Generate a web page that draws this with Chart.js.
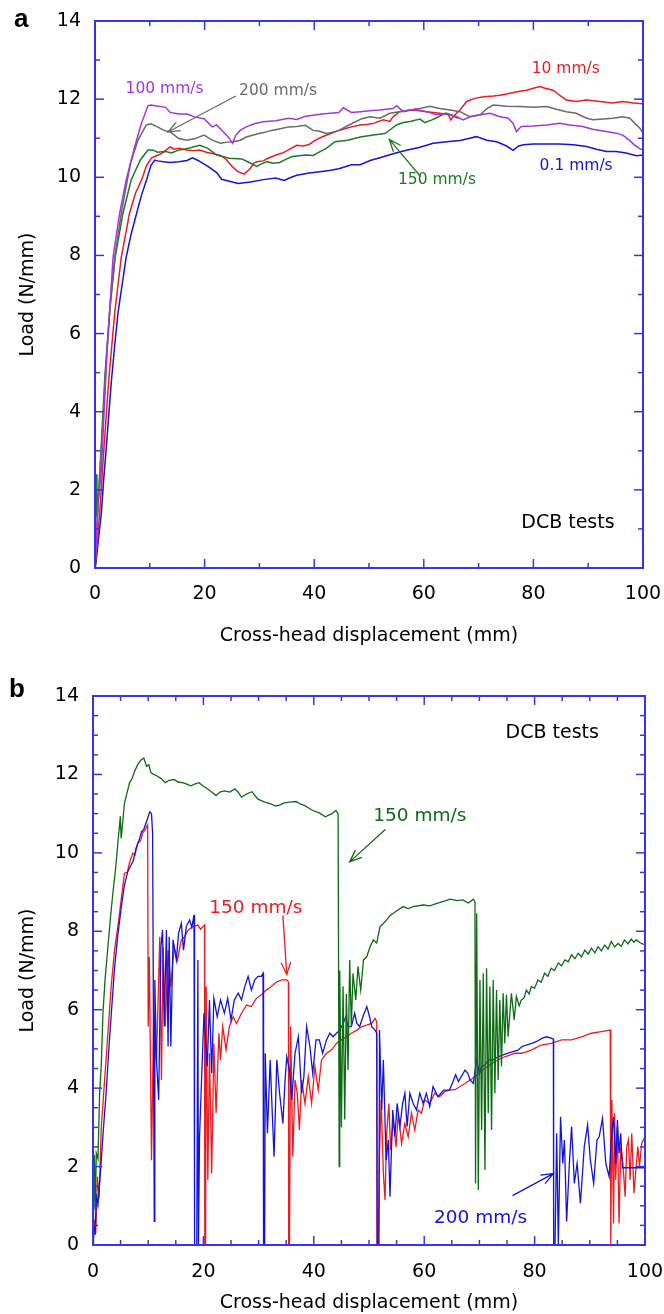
<!DOCTYPE html>
<html>
<head>
<meta charset="utf-8">
<script src="https://cdn.jsdelivr.net/npm/chart.js@4.4.1/dist/chart.umd.min.js"></script>
<style>
  html, body { margin: 0; padding: 0; background: #fff; }
  #wrapA { position: absolute; left: 0; top: 0; width: 664px; height: 660px; }
  #wrapB { position: absolute; left: 0; top: 660px; width: 664px; height: 654px; }
</style>
</head>
<body>
<div id="wrapA"><canvas id="chartA"></canvas></div>
<div id="wrapB"><canvas id="chartB"></canvas></div>
<script>
// ---- panel a: load vs displacement, [displacement mm, load N/mm] ----
var a100 = [[0,0],[0.3,0.8],[0.6,1.7],[1.16,2.5],[1.65,3.97],[2.25,5.66],[3.3,7.96],[4.5,9.08],[5.7,9.93],[7.24,10.78],[8.5,11.39],[9.67,11.83],[10.2,11.85],[11.5,11.82],[12.9,11.79],[13.7,11.66],[15.3,11.62],[16.8,11.62],[18.3,11.54],[19.9,11.5],[21.4,11.29],[22.2,11.34],[23.7,11.12],[24.5,11.0],[25.1,10.87],[25.7,11.08],[26.5,11.2],[27.6,11.29],[29.1,11.37],[30.7,11.42],[33.0,11.45],[35.3,11.51],[36.8,11.48],[38.4,11.56],[41.4,11.62],[44.5,11.66],[45.3,11.78],[46.8,11.66],[48.4,11.68],[50.0,11.7],[52.0,11.72],[54.4,11.76],[55.0,11.83],[56.3,11.68],[58.4,11.74],[60.5,11.68],[62.3,11.6],[64.2,11.64],[66.0,11.55],[67.2,11.47],[68.4,11.55],[70.3,11.6],[72.1,11.64],[73.9,11.55],[75.4,11.51],[76.3,11.38],[76.9,11.17],[77.8,11.3],[79.9,11.31],[82.4,11.34],[84.8,11.38],[86.6,11.34],[89.0,11.3],[90.8,11.23],[93.3,11.17],[95.1,11.13],[96.3,11.08],[97.5,10.95],[98.4,10.83],[99.3,10.74],[100,10.7]];
var a200 = [[0,0],[0.3,1.0],[0.8,2.2],[1.4,3.6],[2.0,5.2],[2.8,6.8],[3.6,7.96],[4.8,9.08],[5.6,9.7],[6.5,10.37],[7.85,10.95],[9.36,11.34],[10.2,11.37],[11.4,11.29],[12.6,11.2],[13.7,11.16],[15.3,10.99],[16.8,10.95],[18.3,10.99],[19.9,11.08],[21.4,10.95],[22.9,10.87],[24.2,10.9],[25.3,10.91],[26.5,10.95],[27.6,11.03],[29.9,11.12],[31.0,11.15],[32.2,11.2],[33.8,11.24],[35.3,11.29],[36.8,11.3],[38.4,11.33],[39.8,11.2],[41.0,11.18],[42.2,11.12],[43.4,11.15],[44.5,11.2],[46.8,11.37],[48.7,11.5],[50.2,11.55],[52.0,11.51],[53.8,11.64],[55.6,11.68],[57.5,11.72],[59.3,11.76],[61.1,11.82],[62.9,11.76],[64.8,11.72],[66.6,11.68],[68.4,11.55],[70.3,11.6],[71.5,11.76],[72.7,11.85],[75.1,11.82],[77.6,11.81],[80.0,11.79],[82.4,11.81],[84.2,11.74],[86.0,11.68],[87.8,11.64],[89.7,11.51],[90.9,11.47],[92.7,11.49],[94.5,11.51],[96.3,11.55],[97.6,11.51],[98.5,11.38],[99.4,11.26],[100,11.13]];
var a10 = [[0,0],[0.4,0.6],[0.85,1.4],[1.65,3.1],[2.5,4.8],[3.6,6.53],[4.8,7.96],[6.3,9.08],[7.4,9.6],[8.5,9.93],[9.4,10.3],[10.3,10.49],[11.2,10.55],[12.2,10.61],[13.0,10.7],[13.7,10.78],[14.5,10.72],[15.3,10.74],[16.8,10.7],[18.0,10.68],[19.1,10.7],[20.3,10.64],[21.4,10.61],[22.9,10.56],[24.0,10.45],[24.5,10.36],[25.3,10.24],[26.0,10.15],[27.2,10.08],[28.0,10.18],[28.4,10.24],[29.0,10.36],[29.5,10.4],[30.7,10.42],[31.8,10.5],[33.0,10.57],[34.2,10.62],[35.3,10.7],[36.8,10.82],[38.0,10.8],[39.1,10.84],[40.2,10.95],[41.4,11.03],[43.0,11.12],[44.5,11.2],[45.6,11.24],[46.8,11.29],[48.4,11.34],[49.9,11.36],[50.8,11.38],[52.6,11.47],[53.8,11.43],[54.4,11.55],[55.6,11.68],[57.5,11.72],[59.2,11.7],[60.5,11.68],[62.9,11.64],[64.5,11.6],[64.9,11.47],[65.7,11.6],[66.6,11.72],[67.8,11.94],[69.3,12.02],[70.9,12.06],[72.7,12.08],[73.9,12.1],[75.1,12.13],[77.0,12.19],[78.8,12.23],[80.0,12.28],[81.2,12.32],[82.1,12.28],[83.6,12.23],[84.8,12.1],[86.0,11.98],[87.8,11.94],[89.7,11.98],[92.1,11.94],[94.5,11.9],[96.3,11.94],[98.2,11.9],[100,11.88]];
var a150 = [[0,0],[0.1,1.2],[0.2,2.4],[0.35,1.3],[0.7,2.0],[1.2,3.3],[1.8,4.9],[2.7,6.6],[3.7,7.96],[5.1,9.08],[6.6,9.93],[8.3,10.45],[9.67,10.7],[10.5,10.7],[11.4,10.64],[12.9,10.66],[14.0,10.62],[15.3,10.7],[16.3,10.72],[17.6,10.76],[19.1,10.82],[20.6,10.74],[22.2,10.57],[23.3,10.53],[24.5,10.49],[26.8,10.47],[28.4,10.36],[29.5,10.28],[30.5,10.35],[31.4,10.4],[32.5,10.36],[33.7,10.38],[35.0,10.47],[36.0,10.53],[38.4,10.57],[39.8,10.56],[41.0,10.65],[42.2,10.74],[43.8,10.91],[46.1,10.95],[48.4,11.03],[50.8,11.08],[52.9,11.12],[53.8,11.21],[55.0,11.34],[56.3,11.4],[57.5,11.43],[59.3,11.49],[60.2,11.4],[61.5,11.47],[62.7,11.55],[63.9,11.64],[64.8,11.6],[65.7,11.55],[66.3,11.51]];
var a01 = [[0,0],[0.24,0.2],[0.6,0.7],[1.16,1.4],[1.6,2.3],[2.07,3.1],[2.5,3.9],[3.0,4.8],[3.6,5.7],[4.2,6.53],[5.0,7.3],[5.7,7.96],[6.6,8.55],[7.6,9.08],[8.5,9.55],[9.4,9.93],[10.2,10.3],[10.9,10.44],[11.4,10.42],[12.5,10.4],[13.7,10.38],[15.3,10.4],[16.8,10.43],[17.8,10.5],[18.8,10.43],[19.6,10.36],[20.6,10.28],[22.2,10.12],[23.1,9.95],[24.5,9.9],[26.1,9.84],[28.4,9.88],[30.7,9.94],[33.0,9.98],[34.5,9.92],[35.5,9.98],[36.8,10.05],[39.1,10.11],[41.4,10.15],[43.0,10.18],[44.5,10.22],[46.8,10.32],[48.4,10.32],[50.2,10.43],[52.0,10.5],[54.4,10.6],[56.8,10.69],[59.3,10.77],[61.7,10.87],[64.2,10.91],[66.6,10.94],[68.4,11.0],[69.6,11.04],[71.5,10.95],[73.3,10.91],[75.1,10.8],[76.3,10.69],[77.3,10.8],[78.2,10.83],[80.0,10.85],[82.4,10.85],[84.8,10.85],[87.3,10.83],[89.7,10.79],[91.5,10.72],[93.3,10.66],[95.1,10.66],[96.9,10.62],[98.8,10.55],[100,10.57]];

// ---- panel b ----
var bGreen150 = [[0,0],[0.1,0.9],[0.25,2.3],[0.4,0.9],[0.6,2.34],[0.9,2.2],[1.2,3.87],[1.5,4.6],[1.8,5.91],[2.2,6.8],[2.7,7.6],[3.2,8.4],[3.6,8.97],[4.1,9.6],[4.5,10.25],[4.95,10.93],[5.1,10.37],[5.4,10.8],[5.7,11.27],[6.2,11.55],[6.6,11.78],[7.1,11.9],[7.5,12.07],[8.1,12.25],[8.7,12.37],[9.2,12.42],[9.7,12.21],[10.1,12.25],[10.5,12.04],[11.0,12.0],[11.6,11.96],[12.3,11.9],[13.1,11.79],[13.8,11.85],[14.7,11.87],[15.5,11.8],[16.2,11.79],[17.0,11.75],[17.7,11.71],[18.5,11.76],[19.2,11.79],[20.0,11.7],[20.8,11.63],[21.5,11.55],[22.3,11.46],[23.0,11.55],[23.8,11.58],[24.8,11.55],[25.7,11.63],[26.3,11.55],[26.9,11.42],[27.8,11.5],[28.8,11.56],[29.4,11.45],[29.9,11.37],[31.0,11.3],[32.2,11.25],[33.0,11.2],[33.7,11.21],[34.5,11.27],[35.3,11.29],[36.0,11.3],[36.8,11.31],[37.5,11.25],[38.3,11.21],[39.0,11.15],[39.8,11.08],[41.0,11.02],[42.1,10.92],[42.7,10.96],[43.3,11.0],[44.0,11.08],[44.3,11.02],[44.4,11.0],[44.6,2.0],[44.7,7.0],[45.0,3.0],[45.3,6.6],[45.6,3.2],[45.9,6.4],[46.2,4.46],[46.5,7.27],[46.8,5.57],[47.1,6.93],[47.6,6.25],[48.0,7.1],[48.5,6.5],[49.0,7.27],[49.6,7.35],[50.2,7.61],[50.8,7.78],[51.4,7.7],[52.0,8.12],[52.6,8.2],[53.2,8.29],[53.8,8.4],[54.4,8.46],[55.3,8.55],[56.2,8.63],[57.1,8.58],[58.0,8.63],[59.8,8.67],[61.0,8.65],[62.3,8.71],[63.5,8.76],[64.7,8.82],[66.0,8.78],[67.0,8.8],[68.0,8.72],[68.9,8.82],[69.2,8.75],[69.3,1.57],[69.5,8.46],[69.8,1.4],[70.1,6.76],[70.4,2.93],[70.7,6.93],[71.0,1.91],[71.3,7.06],[71.6,3.36],[71.9,6.59],[72.2,2.93],[72.5,6.76],[72.8,3.87],[73.1,6.5],[73.4,4.21],[73.7,6.25],[74.0,4.55],[74.3,6.42],[74.6,5.14],[74.9,6.38],[75.2,5.31],[75.8,6.42],[76.3,5.74],[76.7,6.34],[77.2,6.1],[77.6,6.25],[78.1,6.3],[78.5,6.5],[79.0,6.4],[79.4,6.59],[80.0,6.55],[80.6,6.76],[81.2,6.7],[81.8,6.93],[82.4,6.85],[83.0,7.06],[83.6,7.0],[84.3,7.19],[84.9,7.12],[85.5,7.27],[86.1,7.22],[86.7,7.4],[87.3,7.3],[87.9,7.44],[88.5,7.35],[89.1,7.52],[89.7,7.42],[90.3,7.57],[90.9,7.45],[91.5,7.61],[92.1,7.5],[92.7,7.65],[93.3,7.55],[93.9,7.74],[94.5,7.6],[95.1,7.69],[95.7,7.62],[96.3,7.78],[96.9,7.68],[97.5,7.8],[98.0,7.72],[98.4,7.78],[99.2,7.7],[100,7.65]];
var bRed150 = [[0,0],[0.3,0.64],[0.5,0.3],[0.8,1.74],[1.1,1.2],[1.5,3.0],[2.1,4.2],[2.7,5.4],[3.3,6.6],[3.9,7.52],[4.5,8.12],[5.1,8.8],[5.7,9.48],[6.2,9.5],[6.6,9.74],[7.2,9.99],[7.6,9.95],[8.1,10.25],[8.6,10.3],[9.0,10.5],[9.5,10.6],[9.9,10.71],[10.0,5.57],[10.2,7.35],[10.6,2.16],[11.0,5.91],[11.5,4.7],[12.1,7.86],[12.4,4.21],[12.7,7.6],[13.1,5.57],[13.6,7.52],[14.1,6.59],[14.7,7.6],[15.3,7.27],[16.0,7.78],[16.6,7.86],[17.2,8.03],[18.1,8.12],[19.0,8.16],[19.5,8.05],[19.9,8.12],[20.2,8.16],[20.25,0],[20.4,0],[20.5,6.59],[20.8,1.66],[21.1,4.89],[21.5,1.83],[21.9,5.14],[22.3,3.36],[22.8,5.4],[23.1,4.72],[23.5,5.57],[24.1,4.98],[24.7,5.57],[25.4,5.82],[26.0,5.65],[26.9,5.91],[27.8,6.12],[28.7,6.08],[29.6,6.29],[30.5,6.38],[31.4,6.5],[32.3,6.59],[33.3,6.71],[34.2,6.76],[35.1,6.76],[35.4,6.71],[35.45,0],[35.6,0],[35.8,5.57],[36.2,2.25],[36.6,4.21],[37.0,3.87],[37.4,2.93],[37.8,4.21],[38.4,3.61],[39.0,4.29],[39.6,3.61],[40.2,4.55],[40.8,3.95],[41.4,4.72],[42.3,4.89],[43.2,4.97],[44.1,5.14],[45.0,5.23],[45.9,5.31],[46.8,5.4],[47.8,5.48],[48.7,5.57],[49.6,5.61],[50.5,5.65],[51.1,5.78],[51.4,5.7],[51.45,0],[51.7,0],[51.9,2.33],[52.2,3.7],[52.6,1.83],[52.9,1.15],[53.2,2.85],[53.6,3.61],[53.9,2.42],[54.4,3.19],[54.9,2.5],[55.3,3.36],[55.9,2.59],[56.5,3.1],[57.1,2.76],[57.7,3.36],[58.3,2.93],[58.9,3.44],[59.5,3.36],[60.1,3.7],[61.0,3.61],[61.9,3.87],[62.8,3.78],[63.7,3.91],[64.6,3.95],[65.6,3.96],[67.4,4.12],[69.2,4.29],[71.0,4.51],[72.8,4.68],[74.6,4.8],[76.5,4.89],[77.7,4.89],[79.4,4.97],[81.2,5.1],[83.0,5.14],[84.9,5.23],[86.7,5.23],[88.5,5.31],[90.3,5.4],[92.1,5.44],[93.7,5.48],[93.8,0],[94.0,3.7],[94.3,0.55],[94.5,3.36],[94.7,1.66],[95.0,3.02],[95.3,0.55],[95.6,2.51],[96.0,2.08],[96.4,1.23],[96.7,2.51],[97.0,2.68],[97.3,1.66],[97.6,2.85],[98.0,1.32],[98.3,1.83],[98.7,2.51],[99.0,2.0],[99.4,2.59],[100,2.76]];
var bBlue200 = [[0,0],[0.2,0.5],[0.4,0.26],[0.6,1.3],[0.9,1.02],[1.4,1.96],[1.8,2.8],[2.4,3.91],[2.8,4.85],[3.3,5.87],[3.9,7.06],[4.5,7.91],[5.1,8.59],[5.7,9.18],[6.3,9.52],[6.9,9.69],[7.3,9.8],[7.8,10.12],[8.3,10.3],[8.8,10.54],[9.2,10.6],[9.7,10.8],[10.3,11.05],[10.6,11.0],[10.8,10.5],[11.1,0.6],[11.2,6.76],[11.5,4.72],[11.9,3.7],[12.3,7.6],[12.6,8.03],[12.9,5.57],[13.3,8.03],[13.6,5.06],[13.8,7.86],[14.1,5.06],[14.5,7.78],[15.1,7.27],[15.5,7.95],[16.0,8.2],[16.4,7.52],[16.9,8.12],[17.5,8.29],[17.9,8.1],[18.3,8.42],[18.4,0],[18.8,0],[19.0,7.27],[19.1,0],[19.3,2.76],[20.1,5.91],[20.7,4.55],[21.1,6.25],[21.5,4.38],[21.9,6.29],[22.5,5.82],[23.1,6.25],[23.8,5.91],[24.4,6.29],[25.0,5.74],[25.6,6.25],[26.3,6.42],[26.9,6.25],[27.5,6.59],[28.1,6.85],[28.7,6.5],[29.3,6.76],[29.9,6.85],[30.5,6.85],[30.8,6.93],[30.9,0],[31.1,0],[31.2,4.89],[31.6,2.85],[32.1,4.72],[32.5,3.27],[32.8,2.25],[33.3,4.72],[33.8,3.87],[34.4,3.1],[34.8,4.21],[35.1,4.8],[35.6,4.46],[36.0,3.7],[36.6,4.89],[37.2,5.31],[37.8,3.87],[38.2,4.29],[38.7,5.57],[39.3,5.06],[39.8,4.38],[40.4,5.23],[41.0,5.23],[41.6,4.89],[42.3,5.23],[42.9,5.4],[43.5,5.31],[44.1,5.4],[44.7,5.48],[45.3,5.65],[45.8,5.82],[46.2,5.57],[46.8,5.57],[47.4,5.91],[47.8,5.65],[48.3,5.57],[48.9,5.82],[49.6,6.08],[50.1,5.82],[50.5,5.57],[51.1,5.48],[51.4,5.4],[51.5,0],[51.8,0],[51.9,5.48],[52.3,3.44],[52.6,4.72],[53.1,2.16],[53.5,2.68],[53.8,1.23],[54.3,3.44],[54.7,2.76],[55.1,3.61],[55.6,3.02],[56.1,3.61],[56.5,3.87],[56.9,3.02],[57.4,3.87],[58.0,3.61],[58.6,3.44],[59.2,3.87],[59.8,3.61],[60.4,3.87],[61.0,3.53],[61.6,4.04],[62.5,3.78],[63.5,3.95],[64.6,3.95],[65.7,4.34],[66.2,4.17],[67.4,4.46],[67.9,4.38],[68.3,4.21],[68.9,4.12],[69.5,4.72],[70.0,4.38],[70.4,4.55],[71.0,4.59],[71.6,4.72],[72.5,4.72],[73.4,4.8],[74.3,4.85],[75.2,4.89],[76.1,4.93],[77.0,4.97],[77.7,5.06],[78.5,5.1],[79.5,5.14],[80.4,5.19],[81.3,5.27],[82.2,5.31],[83.1,5.27],[83.4,5.25],[83.45,0],[83.7,0],[84.0,2.85],[84.3,0],[84.7,3.27],[85.1,2.08],[85.4,2.68],[85.8,0.6],[86.3,2.08],[86.7,3.02],[87.2,1.57],[87.7,2.08],[88.3,1.06],[89.0,2.51],[89.6,3.06],[90.1,2.17],[90.7,1.57],[91.3,2.68],[91.7,2.76],[92.3,3.23],[92.9,2.08],[93.5,1.74],[93.9,2.68],[94.3,3.27],[94.7,2.08],[95.0,3.19],[95.3,2.34],[95.6,2.85],[95.9,1.97],[100,1.97]];

var xTicks = [0, 20, 40, 60, 80, 100];
var yTicks = [0, 2, 4, 6, 8, 10, 12, 14];

var AXIS_BLUE = '#3535f0';
var FONT = '"DejaVu Sans", "Liberation Sans", Arial, sans-serif';

function toXY(arr) {
    return arr.map(function (p) { return { x: p[0], y: p[1] }; });
}

// frame + inward ticks on all four sides, through the chart's own scales
var frameTicks = {
    id: 'frameTicks',
    afterDatasetsDraw: function (chart, args, opts) {
        var ctx = chart.ctx, a = chart.chartArea;
        var sx = chart.scales.x, sy = chart.scales.y;
        ctx.save();
        ctx.strokeStyle = AXIS_BLUE;
        ctx.lineWidth = 1.5;
        function seg(x1, y1, x2, y2) { ctx.beginPath(); ctx.moveTo(x1, y1); ctx.lineTo(x2, y2); ctx.stroke(); }
        for (var v = 0; v <= 100.001; v += opts.xMinor) {
            var len = (Math.abs(v % 20) < 0.001) ? 9 : 5;
            var px = sx.getPixelForValue(v);
            seg(px, a.bottom, px, a.bottom - len);
            seg(px, a.top, px, a.top + len);
        }
        for (var w = 0; w <= 14.001; w += opts.yMinor) {
            var len2 = (Math.abs(w % 2) < 0.001) ? 9 : 5;
            var py = sy.getPixelForValue(w);
            seg(a.left, py, a.left + len2, py);
            seg(a.right, py, a.right - len2, py);
        }
        ctx.lineWidth = 2;
        ctx.strokeRect(a.left, a.top, a.right - a.left, a.bottom - a.top);
        ctx.restore();
    }
};

// text labels and arrows placed in data coordinates
var notes = {
    id: 'notes',
    afterDraw: function (chart, args, opts) {
        var ctx = chart.ctx, sx = chart.scales.x, sy = chart.scales.y;
        ctx.save();
        (opts.arrows || []).forEach(function (ar) {
            var x1 = sx.getPixelForValue(ar[0]), y1 = sy.getPixelForValue(ar[1]);
            var x2 = sx.getPixelForValue(ar[2]), y2 = sy.getPixelForValue(ar[3]);
            var ang = Math.atan2(y2 - y1, x2 - x1), h = 13;
            ctx.strokeStyle = ar[4];
            ctx.lineWidth = 1.3;
            ctx.beginPath();
            ctx.moveTo(x1, y1); ctx.lineTo(x2, y2);
            ctx.moveTo(x2 - h * Math.cos(ang - 0.38), y2 - h * Math.sin(ang - 0.38));
            ctx.lineTo(x2, y2);
            ctx.lineTo(x2 - h * Math.cos(ang + 0.38), y2 - h * Math.sin(ang + 0.38));
            ctx.stroke();
        });
        ctx.textAlign = 'center';
        ctx.textBaseline = 'middle';
        (opts.labels || []).forEach(function (lb) {
            ctx.fillStyle = lb[3];
            ctx.font = lb[4] + 'px ' + FONT;
            ctx.fillText(lb[0], sx.getPixelForValue(lb[1]), sy.getPixelForValue(lb[2]));
        });
        if (opts.tag) {
            ctx.fillStyle = '#000';
            ctx.textAlign = 'left';
            ctx.textBaseline = 'alphabetic';
            ctx.font = 'bold 26px "Liberation Sans", Arial, sans-serif';
            ctx.fillText(opts.tag[0], opts.tag[1], opts.tag[2]);
        }
        ctx.restore();
    }
};

function makeChart(id, datasets, box, extra) {
    return new Chart(document.getElementById(id).getContext('2d'), {
        type: 'line',
        data: { datasets: datasets },
        options: {
            responsive: true,
            maintainAspectRatio: false,
            animation: false,
            events: [],
            layout: { padding: { left: 0, top: box.top, right: box.right, bottom: 0 } },
            elements: { point: { radius: 0 }, line: { tension: 0 } },
            plugins: {
                legend: { display: false },
                tooltip: { enabled: false },
                frameTicks: { xMinor: extra.xMinor, yMinor: extra.yMinor },
                notes: { labels: extra.labels, arrows: extra.arrows, tag: extra.tag }
            },
            scales: {
                x: {
                    type: 'linear', min: 0, max: 100,
                    afterBuildTicks: function (s) { s.ticks = xTicks.map(function (v) { return { value: v }; }); },
                    afterFit: function (s) { s.height = box.xHeight; s.paddingLeft = 0; s.paddingRight = 0; },
                    grid: { display: false, drawTicks: false },
                    border: { display: false },
                    ticks: { color: '#000', font: { family: FONT, size: 19 }, padding: box.xPad, maxRotation: 0, autoSkip: false },
                    title: { display: true, text: 'Cross-head displacement (mm)', color: '#000',
                             font: { family: FONT, size: 19 }, padding: { top: 0, bottom: box.xTitlePad } }
                },
                y: {
                    type: 'linear', min: 0, max: 14,
                    afterBuildTicks: function (s) { s.ticks = yTicks.map(function (v) { return { value: v }; }); },
                    afterFit: function (s) { s.width = box.yWidth; s.paddingTop = 0; s.paddingBottom = 0; },
                    grid: { display: false, drawTicks: false },
                    border: { display: false },
                    ticks: { color: '#000', font: { family: FONT, size: 19 }, padding: 14, autoSkip: false },
                    title: { display: true, text: 'Load (N/mm)', color: '#000',
                             font: { family: FONT, size: 19 }, padding: { top: 17, bottom: 0 } }
                }
            }
        },
        plugins: [frameTicks, notes]
    });
}

function line(data, color, width) {
    return { data: toXY(data), borderColor: color, borderWidth: width, fill: false, pointRadius: 0 };
}

document.addEventListener('DOMContentLoaded', function () {
    makeChart('chartA', [
        line(a100, '#a236de', 1.5),
        line(a200, '#6a6a6a', 1.5),
        line(a150, '#1d7a22', 1.5),
        line(a10, '#ea1c22', 1.5),
        line(a01, '#1414d8', 1.5)
    ], { top: 21, right: 21, xHeight: 92, yWidth: 95, xPad: 15, xTitlePad: 13 }, {
        xMinor: 10, yMinor: 1,
        tag: ['a', 14, 27],
        labels: [
            ['100 mm/s', 12.7, 12.25, '#a236de', 15.5],
            ['200 mm/s', 33.4, 12.21, '#6a6a6a', 15.5],
            ['10 mm/s', 85.9, 12.76, '#ea1c22', 15.5],
            ['150 mm/s', 62.4, 9.92, '#1d7a22', 15.5],
            ['0.1 mm/s', 87.8, 10.28, '#1414d8', 15.5],
            ['DCB tests', 86.3, 1.15, '#000', 19]
        ],
        arrows: [
            [25.7, 12.08, 13.3, 11.16, '#6a6a6a'],
            [59.4, 10.02, 53.7, 10.97, '#1d7a22']
        ]
    });

    makeChart('chartB', [
        line(bGreen150, '#0d6b14', 1.3),
        line(bBlue200, '#1414d8', 1.3),
        line(bRed150, '#ea1c22', 1.3)
    ], { top: 36, right: 19, xHeight: 69, yWidth: 93, xPad: 16, xTitlePad: 0 }, {
        xMinor: 5, yMinor: 0.5,
        tag: ['b', 9, 37],
        labels: [
            ['DCB tests', 83.2, 13.06, '#000', 19],
            ['150 mm/s', 59.2, 10.94, '#0d6b14', 18.5],
            ['150 mm/s', 29.5, 8.6, '#ea1c22', 18.5],
            ['200 mm/s', 70.2, 0.68, '#1414d8', 18.5]
        ],
        arrows: [
            [53.0, 10.6, 46.5, 9.77, '#0d6b14'],
            [34.4, 8.4, 35.1, 6.9, '#ea1c22'],
            [76.0, 1.26, 83.4, 1.82, '#1414d8']
        ]
    });
});
</script>
</body>
</html>
